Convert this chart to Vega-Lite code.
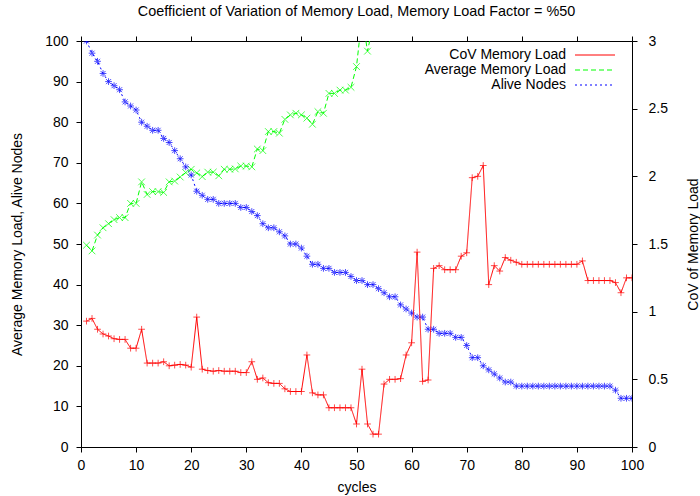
{
  "$schema": "https://vega.github.io/schema/vega-lite/v6.json",
  "width": 551,
  "height": 406,
  "autosize": {"type": "none"},
  "padding": {"left": 81, "top": 41, "right": 68, "bottom": 49},
  "background": "white",
  "title": {"text": "Coefficient of Variation of Memory Load, Memory Load Factor = %50", "font": "Liberation Sans", "fontSize": 14.4, "fontWeight": "normal", "color": "black", "anchor": "middle", "offset": 15},
  "config": {
    "view": {"stroke": "black", "strokeWidth": 1},
    "axis": {"grid": false, "labelFont": "Liberation Sans", "titleFont": "Liberation Sans", "labelFontSize": 14, "titleFontSize": 14, "titleFontWeight": "normal", "labelColor": "black", "titleColor": "black", "tickColor": "black", "domainColor": "black", "tickSize": 5, "labelPadding": 5, "labelFlush": false},
    "legend": {"title": null, "orient": "none", "legendX": 507, "legendY": 7, "padding": 0, "symbolType": "M-10,0H10", "symbolSize": 16, "symbolStrokeWidth": 1, "labelFont": "Liberation Sans", "labelFontSize": 14, "labelColor": "black", "labelAlign": "right", "labelOffset": -36, "rowPadding": 1}
  },
  "data": {"values": [
    {"c":1,"cov":0.93,"avg":49.7,"alive":100},
    {"c":2,"cov":0.95,"avg":48.3,"alive":97},
    {"c":3,"cov":0.87,"avg":52.2,"alive":95},
    {"c":4,"cov":0.835,"avg":54,"alive":92},
    {"c":5,"cov":0.82,"avg":55,"alive":90},
    {"c":6,"cov":0.8,"avg":56,"alive":89},
    {"c":7,"cov":0.795,"avg":56.5,"alive":88},
    {"c":8,"cov":0.795,"avg":56.5,"alive":85},
    {"c":9,"cov":0.73,"avg":60,"alive":84},
    {"c":10,"cov":0.73,"avg":60,"alive":83},
    {"c":11,"cov":0.87,"avg":65.3,"alive":80},
    {"c":12,"cov":0.62,"avg":62.2,"alive":79},
    {"c":13,"cov":0.62,"avg":62.9,"alive":78},
    {"c":14,"cov":0.62,"avg":62.9,"alive":78},
    {"c":15,"cov":0.63,"avg":62.7,"alive":76},
    {"c":16,"cov":0.6,"avg":65.3,"alive":75},
    {"c":17,"cov":0.605,"avg":65.5,"alive":73},
    {"c":18,"cov":0.61,"avg":66.5,"alive":71},
    {"c":19,"cov":0.605,"avg":67.6,"alive":69},
    {"c":20,"cov":0.59,"avg":68.4,"alive":67},
    {"c":21,"cov":0.96,"avg":67.5,"alive":63},
    {"c":22,"cov":0.575,"avg":66.6,"alive":62},
    {"c":23,"cov":0.565,"avg":67.7,"alive":61},
    {"c":24,"cov":0.56,"avg":67.7,"alive":61},
    {"c":25,"cov":0.565,"avg":66.8,"alive":60},
    {"c":26,"cov":0.56,"avg":68.4,"alive":60},
    {"c":27,"cov":0.56,"avg":68.4,"alive":60},
    {"c":28,"cov":0.56,"avg":68.5,"alive":60},
    {"c":29,"cov":0.55,"avg":69.2,"alive":59},
    {"c":30,"cov":0.55,"avg":69.2,"alive":59},
    {"c":31,"cov":0.63,"avg":69.0,"alive":58},
    {"c":32,"cov":0.5,"avg":73.4,"alive":57},
    {"c":33,"cov":0.51,"avg":73.0,"alive":55},
    {"c":34,"cov":0.475,"avg":77.7,"alive":54},
    {"c":35,"cov":0.47,"avg":77.7,"alive":54},
    {"c":36,"cov":0.47,"avg":77.3,"alive":53},
    {"c":37,"cov":0.43,"avg":80.7,"alive":52},
    {"c":38,"cov":0.41,"avg":81.8,"alive":50},
    {"c":39,"cov":0.41,"avg":82.2,"alive":50},
    {"c":40,"cov":0.41,"avg":81.8,"alive":49},
    {"c":41,"cov":0.68,"avg":81,"alive":47},
    {"c":42,"cov":0.4,"avg":79.5,"alive":45},
    {"c":43,"cov":0.385,"avg":82.6,"alive":45},
    {"c":44,"cov":0.385,"avg":82.2,"alive":44},
    {"c":45,"cov":0.29,"avg":87.1,"alive":44},
    {"c":46,"cov":0.29,"avg":87.1,"alive":43},
    {"c":47,"cov":0.29,"avg":87.9,"alive":43},
    {"c":48,"cov":0.29,"avg":87.9,"alive":43},
    {"c":49,"cov":0.29,"avg":88.6,"alive":42},
    {"c":50,"cov":0.17,"avg":93.7,"alive":41},
    {"c":51,"cov":0.575,"avg":106,"alive":41},
    {"c":52,"cov":0.17,"avg":97.5,"alive":40},
    {"c":53,"cov":0.095,"avg":104,"alive":40},
    {"c":54,"cov":0.095,"alive":39},
    {"c":55,"cov":0.465,"alive":38},
    {"c":56,"cov":0.5,"alive":37},
    {"c":57,"cov":0.5,"alive":37},
    {"c":58,"cov":0.505,"alive":35},
    {"c":59,"cov":0.68,"alive":34},
    {"c":60,"cov":0.77,"alive":33},
    {"c":61,"cov":1.44,"alive":32},
    {"c":62,"cov":0.485,"alive":32},
    {"c":63,"cov":0.495,"alive":29},
    {"c":64,"cov":1.32,"alive":29},
    {"c":65,"cov":1.34,"alive":28},
    {"c":66,"cov":1.31,"alive":28},
    {"c":67,"cov":1.31,"alive":28},
    {"c":68,"cov":1.31,"alive":27},
    {"c":69,"cov":1.41,"alive":27},
    {"c":70,"cov":1.435,"alive":25},
    {"c":71,"cov":1.99,"alive":22},
    {"c":72,"cov":2.0,"alive":22},
    {"c":73,"cov":2.08,"alive":20},
    {"c":74,"cov":1.2,"alive":19},
    {"c":75,"cov":1.34,"alive":18},
    {"c":76,"cov":1.3,"alive":17},
    {"c":77,"cov":1.4,"alive":16},
    {"c":78,"cov":1.38,"alive":16},
    {"c":79,"cov":1.365,"alive":15},
    {"c":80,"cov":1.35,"alive":15},
    {"c":81,"cov":1.35,"alive":15},
    {"c":82,"cov":1.35,"alive":15},
    {"c":83,"cov":1.35,"alive":15},
    {"c":84,"cov":1.35,"alive":15},
    {"c":85,"cov":1.35,"alive":15},
    {"c":86,"cov":1.35,"alive":15},
    {"c":87,"cov":1.35,"alive":15},
    {"c":88,"cov":1.35,"alive":15},
    {"c":89,"cov":1.35,"alive":15},
    {"c":90,"cov":1.35,"alive":15},
    {"c":91,"cov":1.375,"alive":15},
    {"c":92,"cov":1.23,"alive":15},
    {"c":93,"cov":1.23,"alive":15},
    {"c":94,"cov":1.23,"alive":15},
    {"c":95,"cov":1.23,"alive":15},
    {"c":96,"cov":1.23,"alive":15},
    {"c":97,"cov":1.215,"alive":14},
    {"c":98,"cov":1.14,"alive":12},
    {"c":99,"cov":1.25,"alive":12},
    {"c":100,"cov":1.25,"alive":12}
  ]},
  "layer": [
    {
      "transform": [{"fold": ["avg", "alive"], "as": ["k", "v"]}, {"filter": "isValid(datum.v)"}],
      "encoding": {
        "x": {"field": "c", "type": "quantitative", "scale": {"domain": [0, 100], "nice": false}, "axis": {"title": "cycles", "values": [0,10,20,30,40,50,60,70,80,90,100], "labelPadding": 6, "titlePadding": 8}},
        "y": {"field": "v", "type": "quantitative", "scale": {"domain": [0, 100], "nice": false}, "axis": {"title": "Average Memory Load, Alive Nodes", "values": [0,10,20,30,40,50,60,70,80,90,100], "labelPadding": 8, "titlePadding": 20}}
      },
      "layer": [
        {"mark": {"type": "line", "clip": true, "strokeWidth": 1},
         "encoding": {
          "color": {"field": "k", "type": "nominal", "scale": {"domain": ["cov", "avg", "alive"], "range": ["#ff0000", "#00ff00", "#0000ff"]},
            "legend": {"labelExpr": "datum.label == 'cov' ? 'CoV Memory Load' : datum.label == 'avg' ? 'Average Memory Load' : 'Alive Nodes'"}},
          "strokeDash": {"field": "k", "type": "nominal", "scale": {"domain": ["cov", "avg", "alive"], "range": [[1, 0], [5, 3], [2, 3]]},
            "legend": {"labelExpr": "datum.label == 'cov' ? 'CoV Memory Load' : datum.label == 'avg' ? 'Average Memory Load' : 'Alive Nodes'"}}
         }},
        {"transform": [{"filter": "datum.k == 'avg'"}],
         "mark": {"type": "point", "clip": true, "filled": false, "size": 45, "strokeWidth": 1, "color": "#00ff00", "shape": "M-1,-1L1,1M-1,1L1,-1"}},
        {"transform": [{"filter": "datum.k == 'alive'"}],
         "mark": {"type": "point", "clip": true, "filled": false, "size": 45, "strokeWidth": 1, "color": "#0000ff", "shape": "M-1,0H1M0,-1V1M-0.75,-0.75L0.75,0.75M-0.75,0.75L0.75,-0.75"}}
      ]
    },
    {
      "transform": [{"fold": ["cov"], "as": ["k", "v"]}],
      "encoding": {
        "x": {"field": "c", "type": "quantitative", "scale": {"domain": [0, 100], "nice": false}, "axis": {"orient": "top", "title": null, "labels": false, "domain": false, "values": [0,10,20,30,40,50,60,70,80,90,100]}},
        "y": {"field": "v", "type": "quantitative", "scale": {"domain": [0, 3], "nice": false}, "axis": {"orient": "right", "title": "CoV of Memory Load", "titleAngle": 270, "format": "~g", "values": [0, 0.5, 1, 1.5, 2, 2.5, 3], "labelPadding": 11, "titlePadding": 33}}
      },
      "layer": [
        {"mark": {"type": "line", "clip": true, "strokeWidth": 1},
         "encoding": {
          "color": {"field": "k", "type": "nominal", "scale": {"domain": ["cov", "avg", "alive"], "range": ["#ff0000", "#00ff00", "#0000ff"]},
            "legend": {"labelExpr": "datum.label == 'cov' ? 'CoV Memory Load' : datum.label == 'avg' ? 'Average Memory Load' : 'Alive Nodes'"}},
          "strokeDash": {"field": "k", "type": "nominal", "scale": {"domain": ["cov", "avg", "alive"], "range": [[1, 0], [5, 3], [2, 3]]},
            "legend": {"labelExpr": "datum.label == 'cov' ? 'CoV Memory Load' : datum.label == 'avg' ? 'Average Memory Load' : 'Alive Nodes'"}}
         }},
        {"mark": {"type": "point", "clip": true, "filled": false, "size": 45, "strokeWidth": 1, "color": "#ff0000", "shape": "M-1,0H1M0,-1V1"}}
      ]
    }
  ],
  "resolve": {"scale": {"y": "independent"}, "axis": {"x": "independent"}}
}
